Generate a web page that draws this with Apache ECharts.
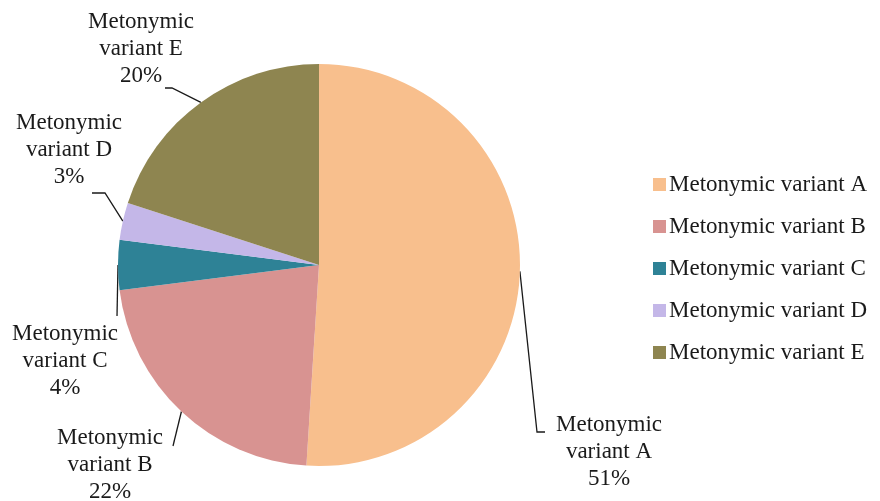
<!DOCTYPE html>
<html>
<head>
<meta charset="utf-8">
<script src="https://cdn.jsdelivr.net/npm/echarts@6/dist/echarts.min.js"></script>
<style>
  html, body { margin: 0; padding: 0; background: #fff; }
  #chart { width: 880px; height: 501px; }
</style>
</head>
<body>
<div id="chart"></div>
<script>
// Share of each metonymic variant (percent)
const categories = ['Metonymic variant A', 'Metonymic variant B', 'Metonymic variant C', 'Metonymic variant D', 'Metonymic variant E'];
const shares = [51, 22, 4, 3, 20];
const colors = ['#F8BF8D', '#D89391', '#2E8296', '#C4B7E8', '#8E8550'];

// Where each callout sits: label centre, then the leader's bend/end points
const callouts = [
  { x: 609, y: 452, line: [[537, 432], [545, 432]] },
  { x: 110, y: 465, line: [[173, 446]] },
  { x: 65,  y: 361, line: [[117, 316]] },
  { x: 69,  y: 150, line: [[105, 193], [92, 193]] },
  { x: 141, y: 49,  line: [[172, 88], [165, 88]] }
];

const FONT = '"Liberation Serif", "Times New Roman", serif';

const chart = echarts.init(document.getElementById('chart'), null, { renderer: 'canvas' });

chart.setOption({
  animation: false,
  color: colors,
  legend: {
    orient: 'vertical',
    left: 648,
    top: 168,
    itemWidth: 13,
    itemHeight: 13,
    itemGap: 19,
    icon: 'rect',
    selectedMode: false,
    textStyle: { fontFamily: FONT, fontSize: 23, lineHeight: 23, color: '#1a1a1a', padding: [0, 0, 0, -2] },
    data: categories
  },
  series: [{
    type: 'pie',
    center: [319, 265],
    radius: 201,
    startAngle: 90,
    clockwise: true,
    avoidLabelOverlap: false,
    emphasis: { disabled: true },
    itemStyle: { borderWidth: 0 },
    label: {
      show: true,
      position: 'outside',
      fontFamily: FONT,
      fontSize: 23,
      lineHeight: 27,
      color: '#1a1a1a',
      align: 'center',
      formatter: p => p.name.replace(' ', '\n') + '\n' + p.value + '%'
    },
    labelLine: {
      show: true,
      length: 10,
      length2: 10,
      lineStyle: { color: '#1a1a1a', width: 1.3 }
    },
    labelLayout: function (params) {
      const c = callouts[params.dataIndex];
      const start = params.labelLinePoints ? params.labelLinePoints[0] : null;
      const pts = start ? [start].concat(c.line) : null;
      while (pts && pts.length < 3) pts.push(pts[pts.length - 1]);
      return {
        x: c.x,
        y: c.y,
        align: 'center',
        verticalAlign: 'middle',
        labelLinePoints: pts
      };
    },
    data: categories.map((name, i) => ({ name: name, value: shares[i] }))
  }]
});
</script>
</body>
</html>
